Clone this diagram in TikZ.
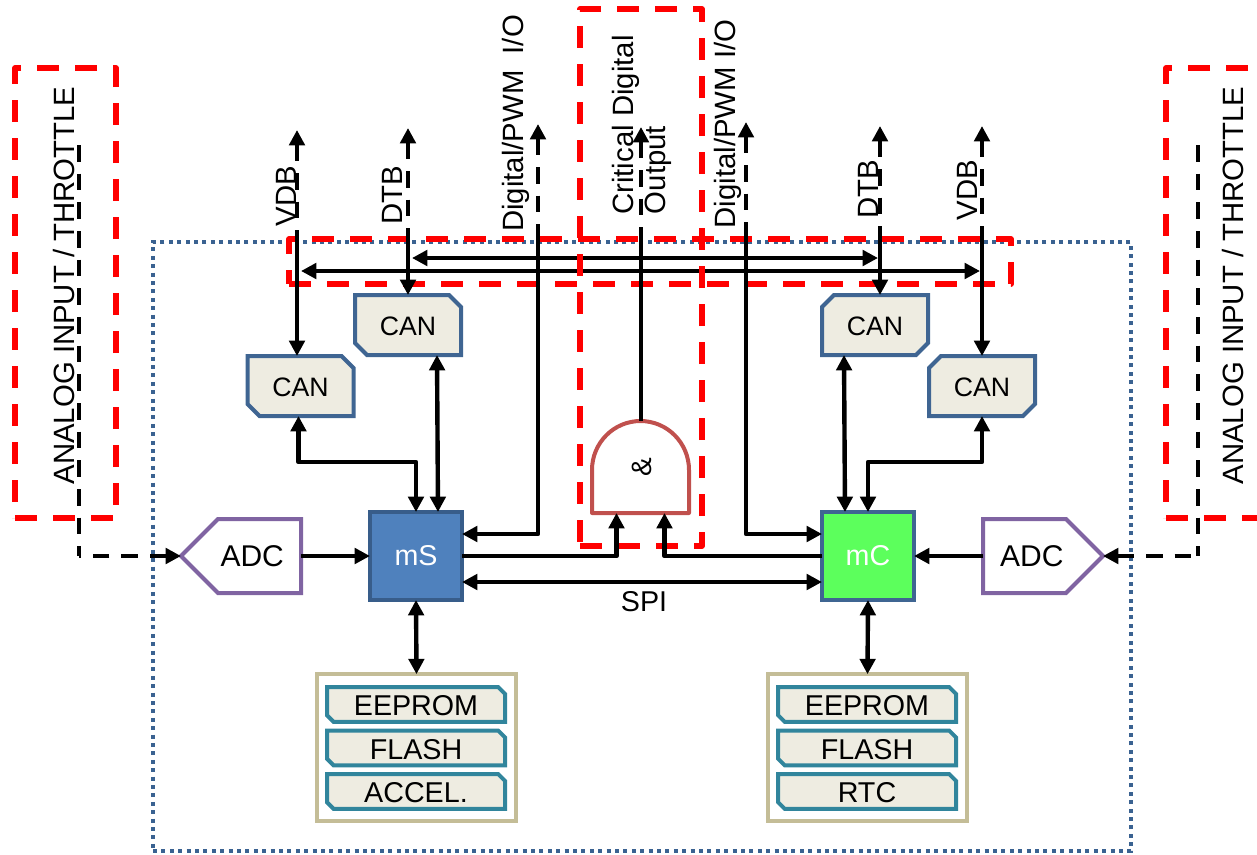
\documentclass[tikz,border=0pt]{standalone}
\usepackage{fontspec}
\setmainfont{Liberation Sans}
\usetikzlibrary{arrows.meta,calc,shapes.misc,shapes.symbols}
\definecolor{redbox}{HTML}{FF0000}
\definecolor{dotblue}{HTML}{3A6291}
\definecolor{canfill}{HTML}{EEECE1}
\definecolor{canline}{HTML}{3F6592}
\definecolor{adcline}{HTML}{8064A2}
\definecolor{andline}{HTML}{C0504D}
\definecolor{memline}{HTML}{C4BD97}
\definecolor{cellline}{HTML}{31859C}
\definecolor{msfill}{HTML}{4F81BD}
\definecolor{msline}{HTML}{385D8A}
\definecolor{mcfill}{HTML}{5CFF5C}
\tikzset{
  redzone/.style={draw=redbox,line width=4pt,dash pattern=on 16.5pt off 12pt,line join=round},
  boundary/.style={draw=dotblue,line width=3pt,dash pattern=on 3pt off 3.3pt},
  wire/.style={draw=black,line width=3.3pt,line join=round},
  dashwire/.style={wire,dash pattern=on 12.5pt off 9pt},
  tip/.style={-{Triangle[length=11.5pt,width=11.5pt]}},
  rtip/.style={{Triangle[length=11.5pt,width=11.5pt]}-},
  tips/.style={{Triangle[length=11.5pt,width=11.5pt]}-{Triangle[length=11.5pt,width=11.5pt]}},
  lbl/.style={font=\fontsize{21.5}{25}\selectfont,text=black},
  vlbl/.style={font=\fontsize{22}{25}\selectfont,text=black,rotate=90},
  canbox/.style={chamfered rectangle,chamfered rectangle xsep=4.5pt,chamfered rectangle ysep=4.5pt,
    chamfered rectangle corners={north east,south west},draw=canline,fill=canfill,line width=3pt,
    minimum width=79.5pt,minimum height=45pt,font=\fontsize{20}{24}\selectfont,text height=16pt,text depth=0pt,inner sep=0pt,outer sep=0pt},
  canboxr/.style={canbox,chamfered rectangle corners={north west,south east}},
  cell/.style={chamfered rectangle,chamfered rectangle xsep=2.5pt,chamfered rectangle ysep=2.5pt,
    chamfered rectangle corners={north east,south west},draw=cellline,fill=canfill,line width=3pt,
    minimum width=133.5pt,minimum height=26pt,lbl,text height=17pt,text depth=0pt,inner sep=0pt,outer sep=0pt},
  mem/.style={draw=memline,line width=3pt,fill=white,minimum width=149pt,minimum height=110pt,outer sep=0pt},
  mcu/.style={draw,line width=3pt,minimum width=69pt,minimum height=66pt,lbl,outer sep=0pt,inner sep=0pt},
  adc/.style={signal,signal pointer angle=90,draw=adcline,line width=3pt,fill=white,minimum width=90pt,minimum height=55.5pt,font=\fontsize{22.5}{26}\selectfont,inner sep=0pt,outer sep=0pt},
}
\begin{document}
\begin{tikzpicture}[x=0.75pt,y=-0.75pt]
\useasboundingbox (0,0) rectangle (1257,854);
% boundary
\node[boundary,minimum width=733.5pt,minimum height=456.75pt,inner sep=0pt,outer sep=0pt] (sys) at (642,546.5) {};
% blocks
\node[mcu,draw=msline,fill=msfill,text=white] (mS) at (416,556) {mS};
\node[mcu,draw=canline,fill=mcfill,text=white] (mC) at (868,556) {mC};
\node[adc,signal to=west,signal from=nowhere,anchor=east] (adcL) at (301,556) {\hspace*{-1pt}ADC\hspace*{10pt}};
\node[adc,signal to=east,signal from=nowhere,anchor=west] (adcR) at (983,556) {\hspace*{10pt}ADC\hspace*{-1pt}};
\node[canbox] (can1) at (300.5,386) {CAN};
\node[canbox] (can2) at (408,325) {CAN};
\node[canboxr] (can3) at (875,325) {CAN};
\node[canboxr] (can4) at (982,386) {CAN};
\node[mem] (memL) at (416.5,747.5) {};
\node[mem] (memR) at (867.5,747.5) {};
\node[cell] (e1) at (416,704.5) {EEPROM};
\node[cell] (f1) at (416,748) {FLASH};
\node[cell] (a1) at (416,791.5) {ACCEL.};
\node[cell] (e2) at (867,704.5) {EEPROM};
\node[cell] (f2) at (867,748) {FLASH};
\node[cell] (r2) at (867,791.5) {RTC};
% gate
\node[minimum width=72.75pt,minimum height=69pt,inner sep=0pt,outer sep=0pt] (gate) at (640.5,467) {};
\draw[draw=andline,line width=3pt,line join=round,fill=white]
  (gate.south west) -- ++(0,-43) arc[start angle=180,end angle=0,x radius=48.5,y radius=-49] -- (gate.south east) -- cycle;
\node[font=\fontsize{21}{24}\selectfont,rotate=90,inner sep=0pt] (amp) at (642,467) {\&};
% bus coordinates
\coordinate (vdbL) at (301,271);
\coordinate (dtbL) at (412,258);
\coordinate (dtbR) at (878,258);
\coordinate (vdbR) at (980,271);
% horizontal buses, under the red zones
\draw[wire,tips] (vdbL) -- (vdbR);
\draw[wire,tips] (dtbL) -- (dtbR);
% red zones: each path runs counter-clockwise from its lower left corner
\draw[redzone] (15,518) -- (116,518) -- (116,68) -- (15,68) -- cycle;
\draw[redzone] (1166,518) -- (1267,518) -- (1267,68) -- (1166,68) -- cycle;
\draw[redzone] (580,546) -- (702,546) -- (702,9) -- (580,9) -- cycle;
\draw[redzone] (289,284) -- (1011,284) -- (1011,239) -- (289,239) -- cycle;
% labels
\node[vlbl] (lanalog) at (64,285.5) {ANALOG INPUT / THROTTLE};
\node[vlbl] (ranalog) at (1233,285.5) {ANALOG INPUT / THROTTLE};
\node[vlbl] (lvdb) at (286,196) {VDB};
\node[vlbl] (ldtb) at (392,195) {DTB};
\node[vlbl] (ldig) at (516,123.5) {Digital/PWM\ \ I/O};
\node[vlbl] (crit1) at (626,125) {Critical Digital};
\node[vlbl] (crit2) at (658,170) {Output};
\node[vlbl] (rdig) at (728,124) {Digital/PWM I/O};
\node[vlbl] (rdtb) at (868,189) {DTB};
\node[vlbl] (rvdb) at (967,190) {VDB};
\node[lbl] (spi) at (644,602) {SPI};
% free ends
\coordinate (a1top) at (297,130);
\coordinate (a1mid) at (297,240);
\coordinate (a2top) at (408,128);
\coordinate (a2mid) at (408,240);
\coordinate (a3top) at (538,124);
\coordinate (a3mid) at (538,225);
\coordinate (a4top) at (641,127);
\coordinate (a4mid) at (641,227);
\coordinate (a5top) at (746,122);
\coordinate (a5mid) at (746,225);
\coordinate (a6top) at (880,126);
\coordinate (a6mid) at (880,240);
\coordinate (a7top) at (982,126);
\coordinate (a7mid) at (982,240);
\coordinate (inL) at (79,145);
\coordinate (inR) at (1198,145);
\coordinate (cornerL) at (inL |- adcL.west);
\coordinate (cornerR) at (inR |- adcR.east);
% vertical stubs
\draw[dashwire,rtip] (a1top) -- (a1mid);
\draw[dashwire,rtip] (a2top) -- (a2mid);
\draw[dashwire,rtip] (a3top) -- (a3mid);
\draw[dashwire,rtip] (a4top) -- (a4mid);
\draw[dashwire,rtip] (a5top) -- (a5mid);
\draw[dashwire,rtip] (a6top) -- (a6mid);
\draw[dashwire,rtip] (a7top) -- (a7mid);
\draw[wire,tip] (a1mid) -- (a1mid |- can1.north);
\draw[wire,tip] (a2mid) -- (can2.north);
\draw[wire,tip] (a6mid) -- (a6mid |- can3.north);
\draw[wire,tip] (a7mid) -- (can4.north);
\draw[wire] (a4mid) -- (a4mid |- gate.north);
% inputs
\draw[dashwire] (inL) -- (cornerL);
\draw[dashwire] (inR) -- (cornerR);
\draw[dashwire,rtip] (adcL.west) -- (cornerL);
\draw[dashwire,rtip] (adcR.east) -- (cornerR);
\draw[wire,tip] (adcL.east) -- (mS.west);
\draw[wire,tip] (adcR.west) -- (mC.east);
% CAN to controllers
\draw[wire,tips] ($(can1.south)+(-2,0)$) -- ++(0,46) -| (mS.north);
\draw[wire,tips] ($(can2.south)+(29,0)$) -- ($(mS.north)+(22,0)$);
\draw[wire,tips] ($(can3.south)+(-31,0)$) -- ($(mC.north)+(-23,0)$);
\draw[wire,tips] (can4.south) -- ++(0,46) -| (mC.north);
% I/O and gate
\draw[wire,tip] (a3mid) |- ($(mS.east)+(0,-22)$);
\draw[wire,tip] (a5mid) |- ($(mC.west)+(0,-22)$);
\draw[wire,tip] (mS.east) -| ($(gate.south)+(-24,0)$);
\draw[wire,tip] (mC.west) -| ($(gate.south)+(24,0)$);
\draw[wire,tips] ($(mS.east)+(0,26)$) -- ($(mC.west)+(0,26)$);
% memories
\draw[wire,tips] (mS.south) -- (memL.north);
\draw[wire,tips] (mC.south) -- (memR.north);
\end{tikzpicture}
\end{document}
